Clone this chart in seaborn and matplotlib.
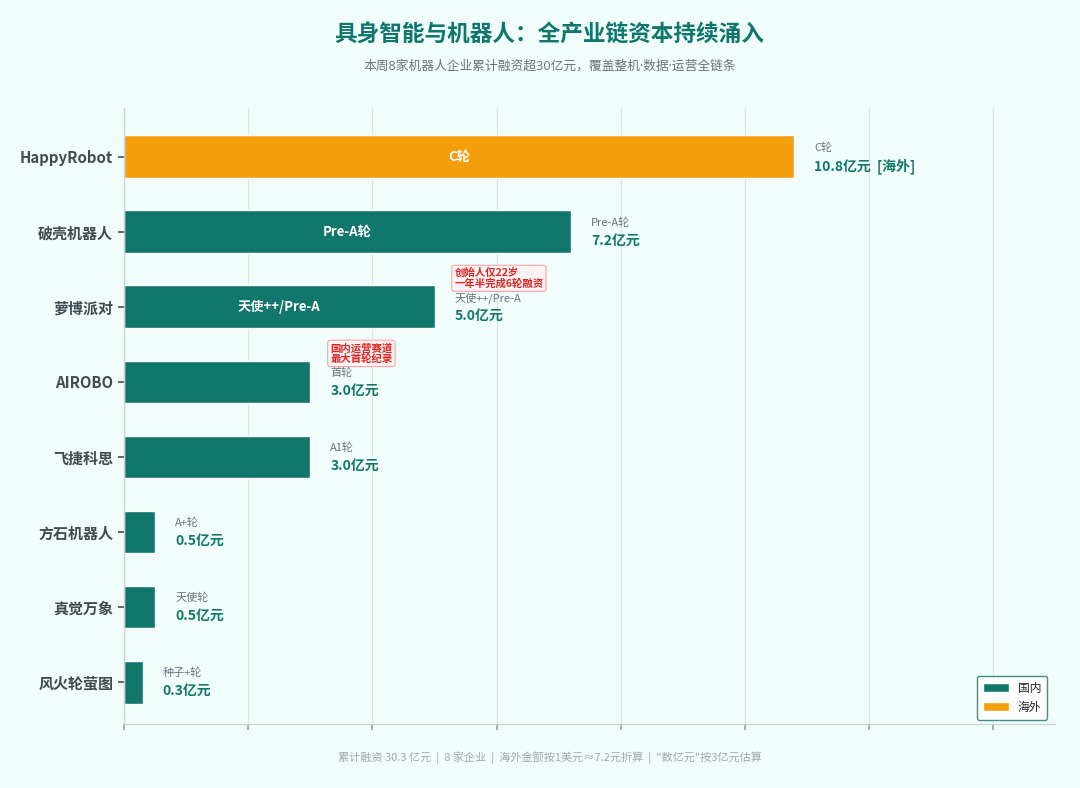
import matplotlib
matplotlib.use("Agg")
import matplotlib.pyplot as plt
import seaborn as sns
import pandas as pd

companies = ["HappyRobot", "破壳机器人", "萝博派对", "AIROBO", "飞捷科思", "方石机器人", "真觉万象", "风火轮萤图"]
amounts = [10.8, 7.2, 5.0, 3.0, 3.0, 0.5, 0.5, 0.3]
rounds = ["C轮", "Pre-A轮", "天使++/Pre-A", "首轮", "A1轮", "A+轮", "天使轮", "种子+轮"]
regions = ["海外", "国内", "国内", "国内", "国内", "国内", "国内", "国内"]
notes = ["", "", "创始人仅22岁\n一年半完成6轮融资", "国内运营赛道\n最大首轮纪录", "", "", "", ""]

title = "具身智能与机器人：全产业链资本持续涌入"
subtitle = "本周8家机器人企业累计融资超30亿元，覆盖整机·数据·运营全链条"
footer = "累计融资 30.3 亿元  |  8 家企业  |  海外金额按1美元≈7.2元折算  |  \"数亿元\"按3亿元估算"

TEAL = "#11766C"
ORANGE = "#F59E0B"
BG = "#F0FDFA"

sns.set_theme(style="white")
plt.rcParams['font.family'] = ['Noto Sans CJK SC', 'DejaVu Sans']

df = pd.DataFrame({"company": companies, "amount": amounts, "round": rounds, "region": regions})

fig = plt.figure(figsize=(10.8, 7.88), dpi=100, facecolor=BG)
ax = fig.add_axes([0.115, 0.081, 0.862, 0.782])
ax.set_facecolor(BG)

sns.barplot(data=df, y="company", x="amount", hue="region", hue_order=["国内", "海外"],
            palette={"国内": TEAL, "海外": ORANGE}, dodge=False, orient="h",
            width=0.57, ax=ax, saturation=1, zorder=2)

ax.set_xlim(0, 15)
ax.set_ylim(7.56, -0.65)
ax.set_xticks(range(0, 15, 2))
ax.set_xticklabels([])
ax.set_xlabel("")
ax.set_ylabel("")
ax.grid(axis="x", color="#DDE5E3", linewidth=0.8, zorder=0)
for s in ["top", "right"]:
    ax.spines[s].set_visible(False)
for s in ["left", "bottom"]:
    ax.spines[s].set_color("#C8D3D0")
    ax.spines[s].set_linewidth(0.9)
ax.tick_params(axis="x", length=4, color="#9AA5A3", bottom=True)
ax.tick_params(axis="y", length=4, color="#555555", left=True, pad=4)
for lbl in ax.get_yticklabels():
    lbl.set_fontsize(10.8)
    lbl.set_fontweight("bold")
    lbl.set_color("#3F4B4F")

off = 0.32
for i, (v, r, n) in enumerate(zip(amounts, rounds, notes)):
    ax.text(v + off, i - 0.12, r, fontsize=8, color="#6B7280", va="center", ha="left")
    suffix = "  [海外]" if regions[i] == "海外" else ""
    ax.text(v + off, i + 0.12, f"{v:.1f}亿元{suffix}", fontsize=10, fontweight="bold",
            color=TEAL, va="center", ha="left")
    if v >= 4:
        ax.text(v / 2, i, r, fontsize=9.5, fontweight="bold", color="white", va="center", ha="center")
    if n:
        ax.text(v + off, i - 0.38, n, fontsize=7.5, fontweight="bold", color="#DC2626",
                va="center", ha="left", linespacing=1.05,
                bbox=dict(boxstyle="round,pad=0.25", facecolor="#FEF2F2", edgecolor="#FCA5A5", linewidth=0.8),
                zorder=5)

leg = ax.legend(loc="lower right", fontsize=8.5, frameon=True, handlelength=2.2, handleheight=0.7,
                borderpad=0.5, labelspacing=0.5, bbox_to_anchor=(0.998, -0.002))
leg.get_frame().set_edgecolor(TEAL)
leg.get_frame().set_facecolor("white")
leg.get_frame().set_linewidth(1.0)
leg.set_title(None)

fig.text(0.509, 0.955, title, ha="center", va="center", fontsize=16.3, fontweight="bold", color="#0F766E")
fig.text(0.509, 0.916, subtitle, ha="center", va="center", fontsize=9.2, color="#6B7280",
         family=['Open Sans', 'Noto Sans CJK SC'])
fig.text(0.509, 0.039, footer, ha="center", va="center", fontsize=8, color="#A0A8AC")

fig.savefig("out.png", dpi=100, facecolor=BG)
